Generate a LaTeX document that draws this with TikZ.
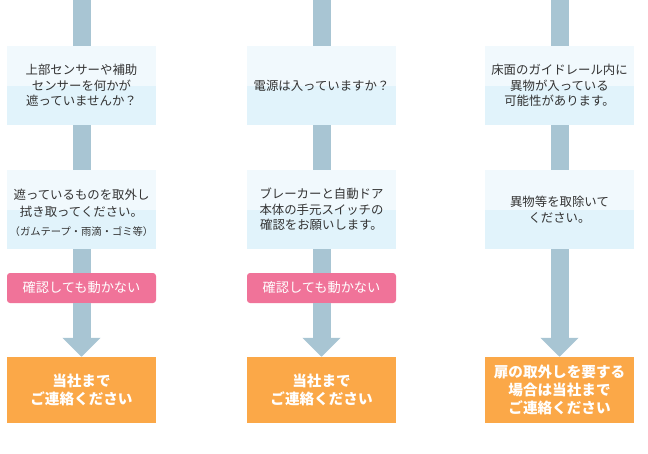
\documentclass[tikz,border=0pt]{standalone}
\usepackage{fontspec}
\newfontfamily\jp{Noto Sans CJK JP}
\usetikzlibrary{arrows.meta}
\definecolor{gris}{HTML}{A8C5D3}
\definecolor{celesteA}{HTML}{F1F9FD}
\definecolor{celesteB}{HTML}{E1F3FB}
\definecolor{rosa}{HTML}{F07399}
\definecolor{naranja}{HTML}{FBA848}
\definecolor{texto}{HTML}{333333}

\begin{document}
\begin{tikzpicture}[x=1pt, y=-1pt,
        caja/.style={rectangle, fill=celesteB,
                     minimum width=149pt, minimum height=79pt, inner sep=0pt,
                     text width=147pt, align=center, text=texto,
                     font=\jp\fontsize{12.4}{15.5}\selectfont,
                     path picture={\fill[celesteA] (path picture bounding box.north west)
                                   rectangle (path picture bounding box.east);}},
        aviso/.style={rectangle, fill=rosa, rounded corners=3pt,
                      minimum width=149pt, minimum height=30pt, inner sep=0pt,
                      text=white, font=\jp\fontsize{13.2}{15}\selectfont},
        contacto/.style={rectangle, fill=naranja,
                         minimum width=149pt, minimum height=66pt, inner sep=0pt,
                         text width=147pt, align=center, text=white,
                         font=\jp\bfseries\fontsize{14.6}{18.3}\selectfont},
        eje/.style={draw=gris, line width=18pt},
        flecha/.style={eje, -{Triangle[width=37pt,length=19pt]}}
    ]
    \useasboundingbox (0,0) rectangle (648,453);

        % Columna 1: sensores
        \coordinate (arriba1) at (81.5,0);
        \node[caja] (pregunta1) at (81.5,85.5) {上部センサーや補助\\センサーを何かが\\遮っていませんか？};
        \node[caja] (accion1) at (81.5,209.5) {\rule{0pt}{17pt}遮っているものを取外し\\[1pt]拭き取ってください。\\[4pt]{\fontsize{10.3}{12}\selectfont（ガムテープ・雨滴・ゴミ等）}};
        \node[aviso] (aviso1) at (81.5,288) {確認しても動かない};
        \node[contacto] (contacto1) at (81.5,390) {当社まで\\ご連絡ください};

        % Columna 2: 電源
        \coordinate (arriba2) at (321.5,0);
        \node[caja] (pregunta2) at (321.5,85.5) {電源は入っていますか？};
        \node[caja] (accion2) at (321.5,209.5) {ブレーカーと自動ドア\\本体の手元スイッチの\\確認をお願いします。};
        \node[aviso] (aviso2) at (321.5,288) {確認しても動かない};
        \node[contacto] (contacto2) at (321.5,390) {当社まで\\ご連絡ください};

        % Columna 3: ガイドレール
        \coordinate (arriba3) at (559.5,0);
        \node[caja] (pregunta3) at (559.5,85.5) {床面のガイドレール内に\\異物が入っている\\可能性があります。};
        \node[caja] (accion3) at (559.5,209.5) {異物等を取除いて\\ください。};
        \node[contacto] (contacto3) at (559.5,390) {扉の取外しを要する\\場合は当社まで\\ご連絡ください};

        % Ejes y flechas
        \draw[eje] (arriba1) -- (pregunta1.north);
        \draw[eje] (pregunta1.south) -- (accion1.north);
        \draw[eje] (accion1.south) -- (aviso1.north);
        \draw[flecha] (aviso1.south) -- (contacto1.north);

        \draw[eje] (arriba2) -- (pregunta2.north);
        \draw[eje] (pregunta2.south) -- (accion2.north);
        \draw[eje] (accion2.south) -- (aviso2.north);
        \draw[flecha] (aviso2.south) -- (contacto2.north);

        \draw[eje] (arriba3) -- (pregunta3.north);
        \draw[eje] (pregunta3.south) -- (accion3.north);
        \draw[flecha] (accion3.south) -- (contacto3.north);

    \end{tikzpicture}
\end{document}
